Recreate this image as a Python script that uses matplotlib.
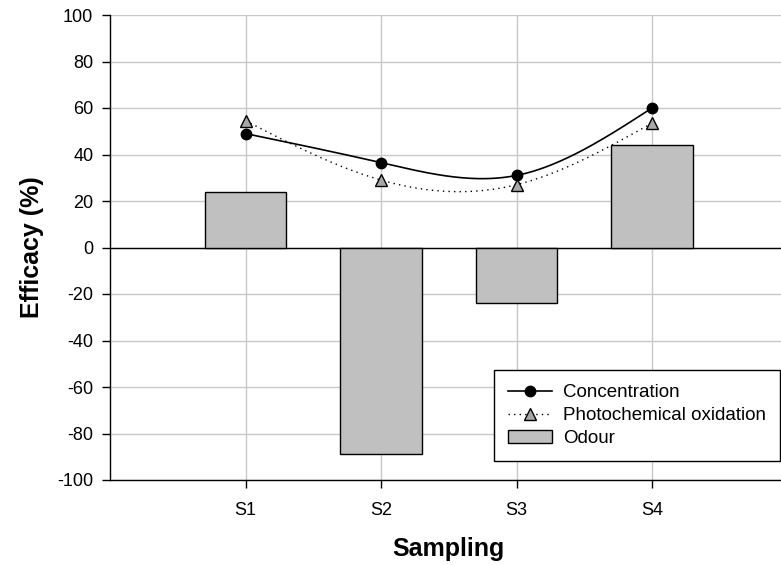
import matplotlib

matplotlib.use("Agg")
import matplotlib.pyplot as plt
import numpy as np

plt.rcParams["font.family"] = ["Liberation Sans", "DejaVu Sans"]
plt.rcParams["axes.unicode_minus"] = False

samples = ["S1", "S2", "S3", "S4"]
concentration = [49, 36.5, 31, 60]
photochemical = [54.5, 29, 27, 53.5]
odour = [24, -89, -24, 44]


def natural_spline(x, y, n=200):
    x = np.asarray(x, dtype=float)
    y = np.asarray(y, dtype=float)
    k = len(x)
    h = np.diff(x)
    a = np.zeros((k, k))
    r = np.zeros(k)
    a[0, 0] = a[-1, -1] = 1.0
    for i in range(1, k - 1):
        a[i, i - 1] = h[i - 1]
        a[i, i] = 2 * (h[i - 1] + h[i])
        a[i, i + 1] = h[i]
        r[i] = 6 * ((y[i + 1] - y[i]) / h[i] - (y[i] - y[i - 1]) / h[i - 1])
    m = np.linalg.solve(a, r)
    xs = np.linspace(x[0], x[-1], n)
    idx = np.clip(np.searchsorted(x, xs) - 1, 0, k - 2)
    x0, x1 = x[idx], x[idx + 1]
    hh = x1 - x0
    t0, t1 = x1 - xs, xs - x0
    ys = (m[idx] * t0**3 + m[idx + 1] * t1**3) / (6 * hh) \
        + (y[idx] / hh - m[idx] * hh / 6) * t0 \
        + (y[idx + 1] / hh - m[idx + 1] * hh / 6) * t1
    return xs, ys


fig = plt.figure(figsize=(7.81, 5.65), dpi=100)
ax = fig.add_axes([110 / 781, 85 / 565, 671 / 781, 465 / 565])

pos = np.arange(1, len(samples) + 1)

ax.set_axisbelow(True)
ax.grid(True, color="#c8c8c8", linewidth=1.0)
ax.axhline(0, color="black", linewidth=1.0, zorder=1.5)

ax.bar(pos, odour, width=0.6, color="#c0c0c0", edgecolor="black", linewidth=1.0,
       label="Odour", zorder=2)

xs, ys = natural_spline(pos, concentration)
ax.plot(xs, ys, color="black", linewidth=1.2, zorder=3)
xs, ys = natural_spline(pos, photochemical)
ax.plot(xs, ys, color="black", linewidth=1.0, linestyle=(0, (1, 3)), zorder=3)
ax.plot(pos, photochemical, linestyle="none", marker="^", markersize=8,
        markerfacecolor="#a8a8a8", markeredgecolor="black", markeredgewidth=1.0, zorder=4)
ax.plot(pos, concentration, linestyle="none", marker="o", markersize=7.5,
        color="black", zorder=5)

# legend proxies with line + marker
h_conc, = ax.plot([], [], color="black", linewidth=1.2, marker="o", markersize=7.5,
                  label="Concentration")
h_photo, = ax.plot([], [], color="black", linewidth=1.0, linestyle=(0, (1, 3)),
                   marker="^", markersize=8, markerfacecolor="#a8a8a8",
                   markeredgecolor="black", label="Photochemical oxidation")
h_bar = ax.patches[0]

ax.set_xlim(0, 671 / 135.5)
ax.set_ylim(-100, 100)
ax.set_xticks(pos)
ax.set_xticklabels(samples)
ax.set_yticks(np.arange(-100, 101, 20))

for side in ("top", "right"):
    ax.spines[side].set_visible(False)
ax.spines["left"].set_linewidth(1.0)
ax.spines["bottom"].set_linewidth(1.0)
ax.tick_params(axis="both", direction="out", length=6, width=1.0, labelsize=13)
ax.tick_params(axis="x", pad=10)
ax.tick_params(axis="y", pad=6)

ax.set_xlabel("Sampling", fontsize=18, fontweight="bold")
ax.set_ylabel("Efficacy (%)", fontsize=18, fontweight="bold")
ax.xaxis.set_label_coords(0.505, -0.1226)
ax.yaxis.set_label_coords(-66 / 671, 0.5)

leg = ax.legend([h_conc, h_photo, h_bar], ["Concentration", "Photochemical oxidation", "Odour"],
                loc="lower left", bbox_to_anchor=(0.572, 0.041), fontsize=13.5,
                frameon=True, fancybox=False, edgecolor="black", framealpha=1,
                borderpad=0.75, handlelength=2.35, handletextpad=0.6, labelspacing=0.3,
                borderaxespad=0)
leg.get_frame().set_linewidth(1.0)

fig.savefig("out.png", dpi=100)
